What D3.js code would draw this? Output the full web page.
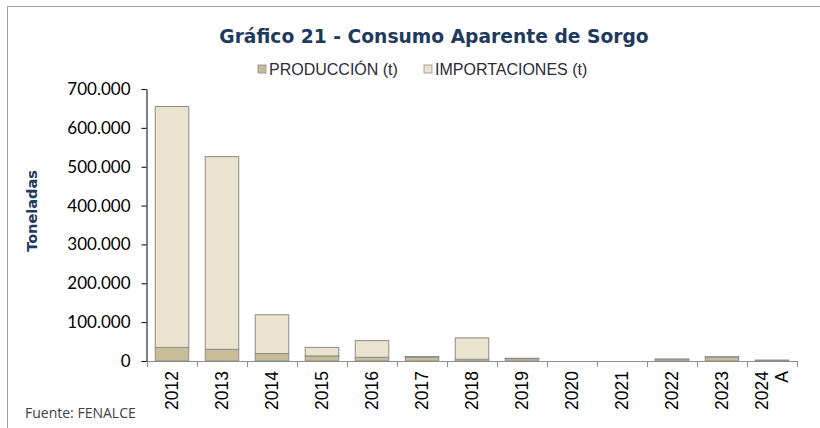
<!DOCTYPE html>
<html>
<head>
<meta charset="utf-8">
<script src="https://cdn.jsdelivr.net/npm/d3@7"></script>
<style>
  body { margin: 0; background: #fff; }
  svg { display: block; }
</style>
</head>
<body>
<svg id="chart" width="820" height="428"></svg>
<script>
// data (toneladas)
var years = ['2012', '2013', '2014', '2015', '2016', '2017', '2018', '2019', '2020', '2021', '2022', '2023', '2024 A'];
var produccion = [35000, 30000, 19000, 13000, 9500, 10000, 4500, 6000, 0, 0, 4500, 10500, 2500];
var importaciones = [620000, 496000, 100000, 22000, 43000, 1500, 55000, 1000, 0, 0, 500, 500, 0];
var yTicks = [0, 100000, 200000, 300000, 400000, 500000, 600000, 700000];
var seriesNames = ['PRODUCCIÓN (t)', 'IMPORTACIONES (t)'];
var seriesColors = ['#c8bd98', '#eae3ce'];

var navy = '#1f3a5f';
var plot = { left: 147, right: 797, top: 89, bottom: 361 };

drawChart();

function drawChart() {
  var svg = d3.select('#chart');

  // outer frame (top + left)
  svg.append('line').attr('x1', 7).attr('x2', 820).attr('y1', 6.5).attr('y2', 6.5)
    .style('stroke', '#a0a0a0').style('stroke-width', 1);
  svg.append('line').attr('x1', 7.5).attr('x2', 7.5).attr('y1', 6).attr('y2', 428)
    .style('stroke', '#a0a0a0').style('stroke-width', 1);

  // title
  svg.append('text')
    .attr('x', 434).attr('y', 43)
    .attr('text-anchor', 'middle')
    .style('font-family', '"DejaVu Sans", sans-serif')
    .style('font-weight', 'bold')
    .style('font-size', '18.7px')
    .style('fill', navy)
    .text('Gráfico 21 - Consumo Aparente de Sorgo');

  // legend
  var legendX = [258, 424];
  seriesNames.forEach(function(name, i) {
    svg.append('rect')
      .attr('x', legendX[i]).attr('y', 65).attr('width', 8).attr('height', 8)
      .style('fill', seriesColors[i]).style('stroke', '#8c8c8c').style('stroke-width', 0.8);
    svg.append('text')
      .attr('x', legendX[i] + 11).attr('y', 75)
      .style('font-family', '"Liberation Sans", Arial, sans-serif')
      .style('font-size', '16px')
      .style('fill', '#2b2b3a')
      .text(name);
  });

  var x = d3.scaleBand()
    .domain(years)
    .range([plot.left, plot.right])
    .paddingInner(0.33)
    .paddingOuter(0.165);

  var y = d3.scaleLinear()
    .domain([0, 700000])
    .range([plot.bottom, plot.top]);

  var stackData = years.map(function(yr, i) {
    return { year: yr, p: produccion[i], m: importaciones[i] };
  });
  var layers = d3.stack().keys(['p', 'm'])(stackData);

  // bars
  svg.selectAll('g.layer')
    .data(layers)
    .enter()
    .append('g')
    .attr('class', 'layer')
    .style('fill', function(d, i) { return seriesColors[i]; })
    .selectAll('rect')
    .data(function(d) { return d.filter(function(s) { return s[1] - s[0] > 0; }); })
    .enter()
    .append('rect')
    .attr('x', function(d) { return x(d.data.year); })
    .attr('y', function(d) { return y(d[1]); })
    .attr('width', x.bandwidth())
    .attr('height', function(d) { return y(d[0]) - y(d[1]); })
    .style('stroke', '#8c8c8c')
    .style('stroke-width', 1);

  // x axis: domain line and ticks at category boundaries
  var xAxis = svg.append('g').attr('transform', 'translate(0,' + plot.bottom + ')');
  xAxis.append('line').attr('x1', plot.left).attr('x2', plot.right).attr('y1', 0.5).attr('y2', 0.5)
    .style('stroke', '#8c8c8c');
  var step = x.step();
  d3.range(years.length + 1).forEach(function(i) {
    var xx = Math.round(plot.left + i * step) + 0.5;
    xAxis.append('line').attr('x1', xx).attr('x2', xx).attr('y1', 0).attr('y2', 6)
      .style('stroke', '#8c8c8c');
  });

  // x labels (rotated)
  years.forEach(function(yr) {
    var parts = yr.split(' ');
    var cx = x(yr) + x.bandwidth() / 2;
    var t = svg.append('text')
      .attr('transform', 'translate(' + cx + ',' + (plot.bottom + 10) + ') rotate(-90)')
      .attr('text-anchor', 'end')
      .style('font-family', '"Liberation Sans", Arial, sans-serif')
      .style('font-size', '17.5px')
      .style('fill', '#000');
    var offset = (parts.length - 1) * 10;
    parts.forEach(function(p, j) {
      t.append('tspan')
        .attr('x', 0)
        .attr('y', 6 - offset + j * 20)
        .text(p);
    });
  });

  // y axis
  var yAxis = svg.append('g')
    .attr('transform', 'translate(' + (plot.left - 0.5) + ',0)')
    .call(d3.axisLeft(y).tickValues(yTicks).tickSize(5).tickSizeOuter(0)
      .tickFormat(function(d) { return d === 0 ? '0' : d3.format(',')(d).replace(/,/g, '.'); }));
  yAxis.select('.domain').style('stroke', '#000');
  yAxis.selectAll('.tick line').style('stroke', '#000');
  yAxis.selectAll('.tick text')
    .attr('x', -16)
    .style('font-family', 'Lato, sans-serif')
    .style('font-size', '17px')
    .style('fill', '#000');

  // y title
  svg.append('text')
    .attr('transform', 'translate(37,211) rotate(-90)')
    .attr('text-anchor', 'middle')
    .style('font-family', '"DejaVu Sans", sans-serif')
    .style('font-weight', 'bold')
    .style('font-size', '14.5px')
    .style('fill', navy)
    .text('Toneladas');

  // source
  svg.append('text')
    .attr('x', 25).attr('y', 418)
    .style('font-family', '"Open Sans", sans-serif')
    .style('font-size', '14px')
    .style('fill', '#404040')
    .text('Fuente: FENALCE');
}
</script>
</body>
</html>
